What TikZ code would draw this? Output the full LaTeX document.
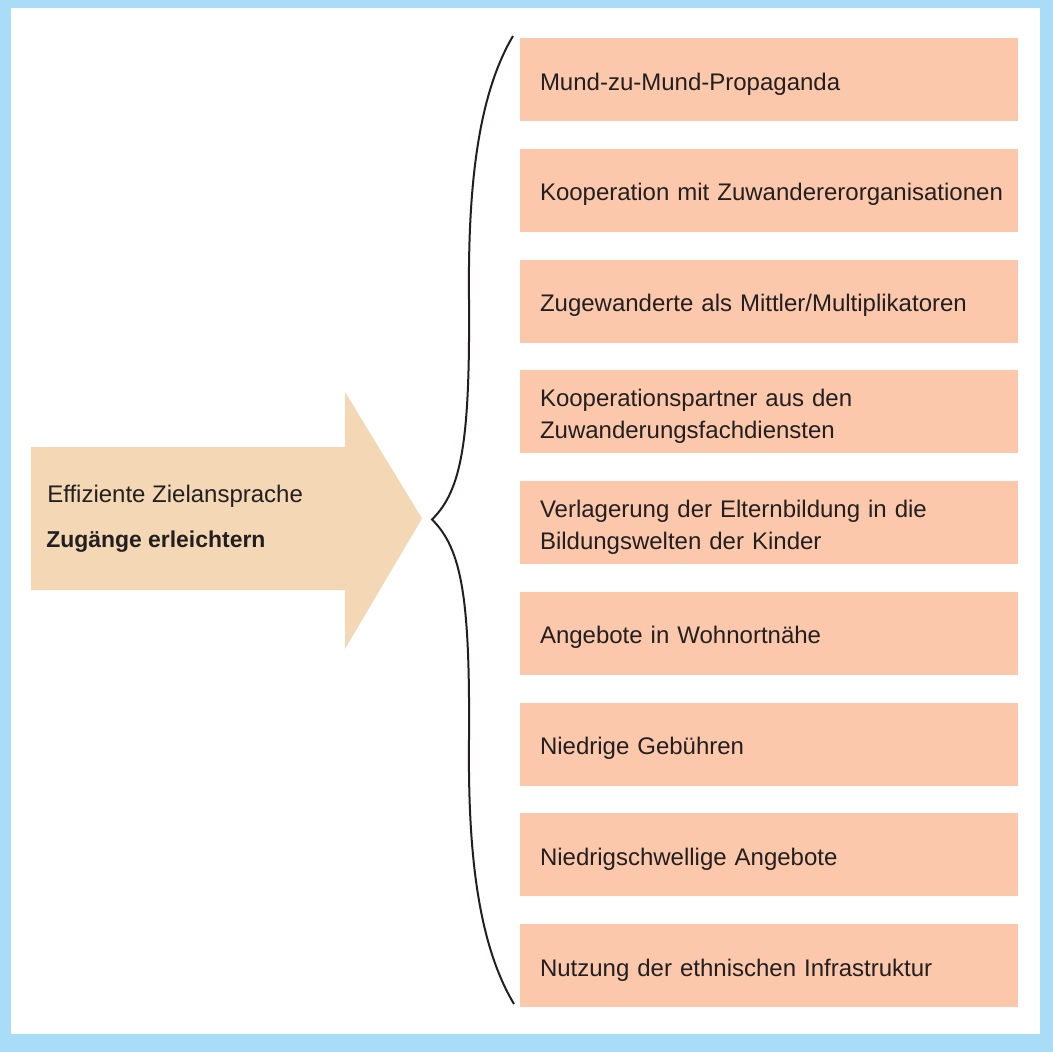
\documentclass[tikz,border=0pt]{standalone}
\usepackage{fontspec}
\setmainfont{Liberation Sans}
\usepackage{tikz}

\definecolor{framecol}{HTML}{A9DCF7}
\definecolor{boxcol}{HTML}{FCC8AB}
\definecolor{arrowcol}{HTML}{F4D8B5}
\definecolor{txt}{HTML}{231F20}

\tikzset{
    item/.style={fill=boxcol, text=txt, minimum width=373.5pt, minimum height=62.25pt,
        inner xsep=15pt, inner ysep=0pt, text width=343.5pt, align=left, text height=19.5pt},
    lefttext/.style={text=txt, inner sep=0pt, anchor=base west}
}

\begin{document}
\begin{tikzpicture}[x=0.75pt, y=-0.75pt, font=\fontsize{18}{24}\selectfont]
    \useasboundingbox (0,0) rectangle (1053,1052);
    % frame
    \fill[framecol] (0,0) rectangle (1053,1052);
    \fill[white] (11,8) rectangle (1040,1034);

    % big arrow
    \fill[arrowcol] (31,447) -- (345,447) -- (345,392) -- (422,518.5)
        -- (345,649) -- (345,590) -- (31,590) -- cycle;
    \node[lefttext] (ziel) at (47,502) {Effiziente Zielansprache};
    \node[lefttext, font=\fontsize{17.2}{24}\selectfont\bfseries] (zugang) at (46,547) {Zugänge erleichtern};

    % brace
    \coordinate (btop) at (513,36);
    \coordinate (btip) at (432,519.5);
    \coordinate (bbot) at (514,1004);
    \draw[txt, line width=1.5pt] (btop) .. controls (475,100) and (468,200) .. (469,300)
        .. controls (470,440) and (462,490) .. (btip)
        .. controls (462,549) and (470,599) .. (469,739)
        .. controls (468,839) and (475,939) .. (bbot);

    % measures
    \node[item] (m1) at (769,79.5) {Mund-zu-Mund-Propaganda};
    \node[item] (m2) at (769,190.25) {\mbox{Kooperation mit Zuwandererorganisationen}};
    \node[item] (m3) at (769,301) {Zugewanderte als Mittler/Multiplikatoren};
    \node[item] (m4) at (769,411.75) {Kooperationspartner aus den\\Zuwanderungsfachdiensten};
    \node[item] (m5) at (769,522.5) {Verlagerung der Elternbildung in die\\Bildungswelten der Kinder};
    \node[item] (m6) at (769,633.25) {Angebote in Wohnortnähe};
    \node[item] (m7) at (769,744) {Niedrige Gebühren};
    \node[item] (m8) at (769,854.75) {Niedrigschwellige Angebote};
    \node[item] (m9) at (769,965.5) {Nutzung der ethnischen Infrastruktur};
\end{tikzpicture}
\end{document}
